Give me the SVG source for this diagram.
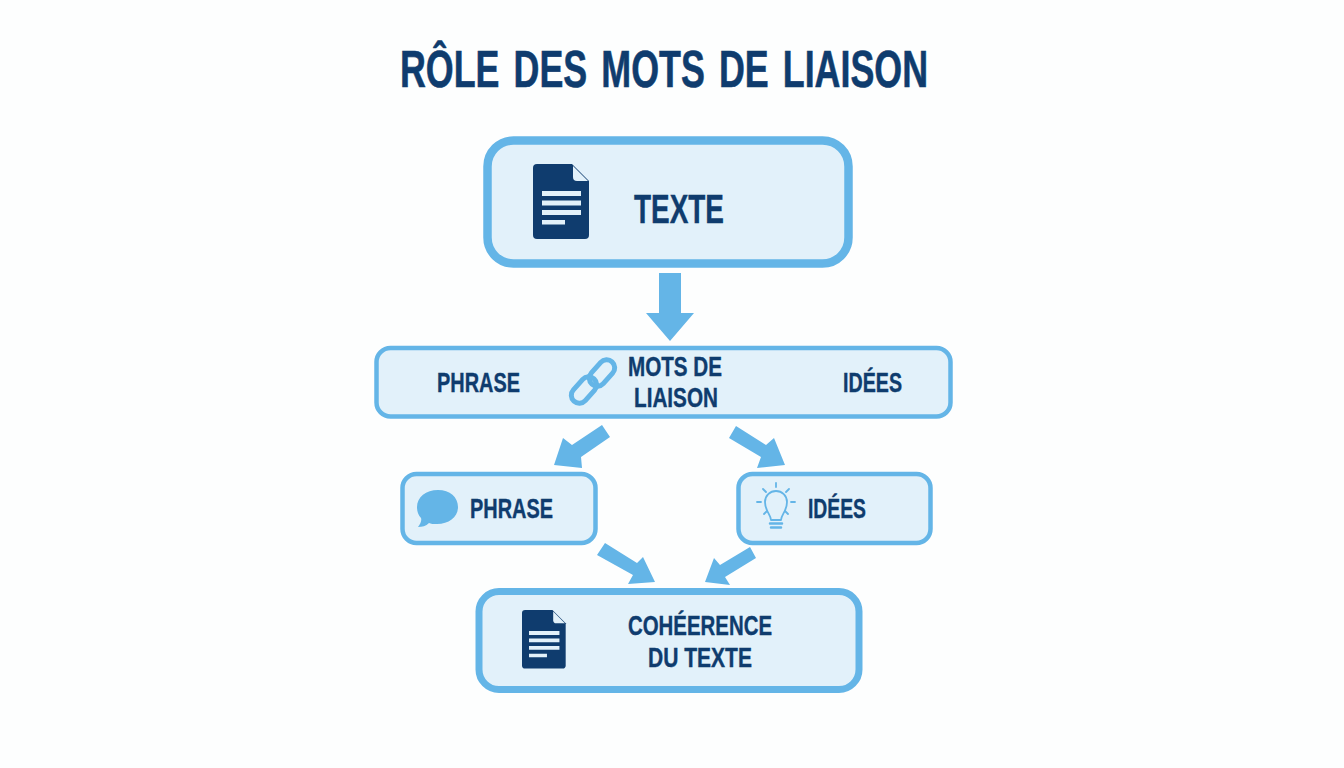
<svg xmlns="http://www.w3.org/2000/svg" width="1344" height="768" viewBox="0 0 1344 768">
<style>
.box{fill:#e2f1fa;stroke:#64b5e7}
text{font-family:"Liberation Sans",Arial,sans-serif;font-weight:700;fill:#0f3c6e;stroke:#0f3c6e;stroke-width:.4}
.t{font-size:28px}
.arrow{fill:#64b5e7}
.ic{fill:none;stroke:#64b5e7;stroke-width:1.800;stroke-linecap:round;stroke-linejoin:round}
.link{fill:none;stroke:#64b5e7;stroke-width:5}
</style>
<defs>
<g id="doc">
<path d="M4 0H39L56 17V71a4 4 0 0 1-4 4H4a4 4 0 0 1-4-4V4a4 4 0 0 1 4-4Z" fill="#0f3c6e"/>
<path d="M40 2L55 17H44a4 4 0 0 1-4-4Z" fill="#e2f1fa"/>
<path d="M9 27H48V32H9ZM9 36.500H48V41.500H9ZM9 46H48V51H9ZM9 56H32V60.500H9Z" fill="#e2f1fa"/>
</g>
</defs>
<rect width="1344" height="768" fill="#fdfefe"/>
<text x="400" y="87" font-size="51" textLength="528" lengthAdjust="spacingAndGlyphs" style="stroke-width:.6;word-spacing:6px">RÔLE DES MOTS DE LIAISON</text>
<g id="connectors" class="arrow">
<polygon points="659,273 681,273 681,313 694,313 670,341 646,313 659,313"/>
<polygon points="602,425 610,437 581,457 582,468 554,465 563,438 572,445"/>
<polygon points="736,426 766,445 774,438 785,465 757,468 761,457 729,438"/>
<polygon points="605,543 637,563 643,557 655,582 628,584 633,575 597,555"/>
<polygon points="750,547 756,558 725,577 730,585 705,582 714,558 720,565"/>
</g>
<g id="node-texte">
<rect class="box" x="487.500" y="140.500" width="361" height="123" rx="26" stroke-width="8.500"/>
<use href="#doc" x="533" y="164"/>
<text x="634" y="223" font-size="40" textLength="90" lengthAdjust="spacingAndGlyphs">TEXTE</text>
</g>
<g id="node-liaison">
<rect class="box" x="376.500" y="348" width="574" height="68.500" rx="14" stroke-width="4.500"/>
<text class="t" x="437" y="392" textLength="83" lengthAdjust="spacingAndGlyphs">PHRASE</text>
<rect class="link" x="-8" y="-15" width="16" height="30" rx="8" transform="translate(602,373) rotate(42)"/>
<rect class="link" x="-8" y="-15" width="16" height="30" rx="8" transform="translate(584,390) rotate(42)"/>
<text class="t" x="628" y="376" textLength="94" lengthAdjust="spacingAndGlyphs">MOTS DE</text>
<text class="t" x="634" y="407" textLength="84" lengthAdjust="spacingAndGlyphs">LIAISON</text>
<text class="t" x="843" y="392" textLength="59" lengthAdjust="spacingAndGlyphs">IDÉES</text>
</g>
<g id="node-phrase">
<rect class="box" x="402.500" y="474" width="193" height="69" rx="14" stroke-width="4.500"/>
<path d="M438 490c12 0 20 7 20 17s-9 17-21 17c-4 0-6 0-8 -1c-3 3-7 4-11 4c2-3 4-6 3-9c-3-3-4-7-4-11c0-10 9-17 21-17Z" fill="#64b5e7"/>
<text class="t" x="470" y="518" textLength="83" lengthAdjust="spacingAndGlyphs">PHRASE</text>
</g>
<g id="node-idees">
<rect class="box" x="738.500" y="474" width="192" height="69" rx="14" stroke-width="4.500"/>
<g class="ic">
<path d="M771 520c0-5-6-9-6-18a11 11 0 0 1 22 0c0 9-6 13-6 18Z"/>
<path d="M770 523.500H782M771 527.500H781" style="stroke-width:2.500"/>
<path d="M776 483V487M763 489L766 492M789 489L786 492M757 502H761M795 502H791M764 514L767 511M788 514L785 511"/>
</g>
<text class="t" x="808" y="518" textLength="58" lengthAdjust="spacingAndGlyphs">IDÉES</text>
</g>
<g id="node-coherence">
<rect class="box" x="479" y="591.500" width="380" height="98" rx="20" stroke-width="7"/>
<use href="#doc" transform="translate(522,610) scale(.78)"/>
<text class="t" x="628" y="635" textLength="144" lengthAdjust="spacingAndGlyphs">COHÉERENCE</text>
<text class="t" x="648" y="667" textLength="104" lengthAdjust="spacingAndGlyphs">DU TEXTE</text>
</g>
</svg>
